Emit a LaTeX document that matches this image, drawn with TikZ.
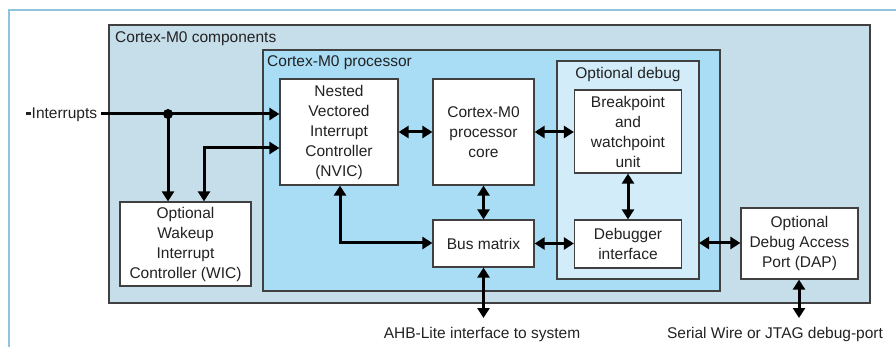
\documentclass[tikz,border=0pt]{standalone}
\usepackage{fontspec}
\setmainfont{Liberation Sans}
\usetikzlibrary{arrows.meta,calc}
\definecolor{compfill}{HTML}{C6DDEA}
\definecolor{procfill}{HTML}{A9DCF5}
\definecolor{dbgfill}{HTML}{D2ECF9}
\definecolor{framecol}{HTML}{8FC4DD}
\definecolor{edgecol}{HTML}{404040}
\definecolor{txtcol}{HTML}{222222}
\begin{document}
\begin{tikzpicture}[x=1pt,y=-1pt,
  every node/.style={font=\fontsize{15.5}{20}\selectfont,text=txtcol},
  region/.style={draw=edgecol,line width=1.2pt},
  blk/.style={draw=edgecol,line width=1.2pt,fill=white,align=center,inner sep=0pt},
  conn/.style={line width=3pt,-{Triangle[length=10pt,width=12pt]}},
  bconn/.style={line width=3pt,{Triangle[length=10pt,width=12pt]}-{Triangle[length=10pt,width=12pt]}},
  lbl/.style={inner sep=0pt,anchor=base west}]
\useasboundingbox (0,0) rectangle (896,347);
% outer frame
\draw[framecol,line width=1.2pt] (9,347) -- (9,10) -- (896,10);
% regions
\draw[region,fill=compfill] (109,25) rectangle (870,303);
\draw[region,fill=procfill] (263,50) rectangle (720,291);
\draw[region,fill=dbgfill] (557,61) rectangle (699,279);
\coordinate (dbgE) at (699,243);
\node[lbl] (tcomp) at (115,43) {Cortex-M0 components};
\node[lbl] (tproc) at (267,67) {Cortex-M0 processor};
\node[lbl,anchor=base] (tdbg) at (628,79) {Optional debug};
% blocks
\node[blk,minimum width=118pt,minimum height=106pt] (nvic) at (339,132) {Nested\\Vectored\\Interrupt\\Controller\\(NVIC)};
\node[blk,minimum width=101pt,minimum height=106pt] (core) at (483.5,132) {Cortex-M0\\processor\\core};
\node[blk,minimum width=107pt,minimum height=83pt] (bkpt) at (628,131.5) {Breakpoint\\and\\watchpoint\\unit};
\node[blk,minimum width=101pt,minimum height=47pt] (bus) at (483.5,243.5) {Bus matrix};
\node[blk,minimum width=107pt,minimum height=48pt] (dbgi) at (628,244) {Debugger\\interface};
\node[blk,minimum width=117pt,minimum height=71pt] (dap) at (799.5,243.5) {Optional\\Debug Access\\Port (DAP)};
\node[blk,minimum width=131pt,minimum height=84pt] (wic) at (185.5,244) {Optional\\Wakeup\\Interrupt\\Controller (WIC)};
% interrupts
\node[lbl] (tint) at (31.5,119) {Interrupts};
\coordinate (intS) at (101,114);
\coordinate (intT) at (26,114);
\draw[line width=3pt,txtcol] (intT) -- ++(5,0);
\coordinate (dot) at (168,114);
\draw[conn] (intS) -- (nvic.west |- intS);
\fill (dot) circle (5pt);
\draw[conn] (dot) -- (dot |- wic.north);
\coordinate (wk) at (204,148);
\draw[bconn] (wk |- wic.north) -- (wk) -- (nvic.west |- wk);
% processor connectors
\draw[bconn] (nvic.east |- 0,132) -- (core.west |- 0,132);
\draw[bconn] (core.east |- 0,132) -- (bkpt.west |- 0,132);
\draw[bconn] (core.south) -- (bus.north);
\draw[bconn] (bkpt.south) -- (dbgi.north);
\draw[bconn] (bus.east) -- (dbgi.west |- bus.east);
\draw[bconn] (dbgE) -- (dap.west |- dbgE);
\draw[bconn] (nvic.south -| 340,0) -- (340,243) -- (bus.west |- 0,243);
% outputs
\node[inner sep=0pt,anchor=base] (tahb) at (482,338) {AHB-Lite interface to system};
\node[inner sep=0pt,anchor=base] (tswj) at (775,338) {Serial Wire or JTAG debug-port};
\coordinate (ahbE) at (483.5,318);
\coordinate (swjE) at (799,318);
\draw[bconn] (bus.south) -- (ahbE);
\draw[bconn] (dap.south -| swjE) -- (swjE);
\end{tikzpicture}
\end{document}
